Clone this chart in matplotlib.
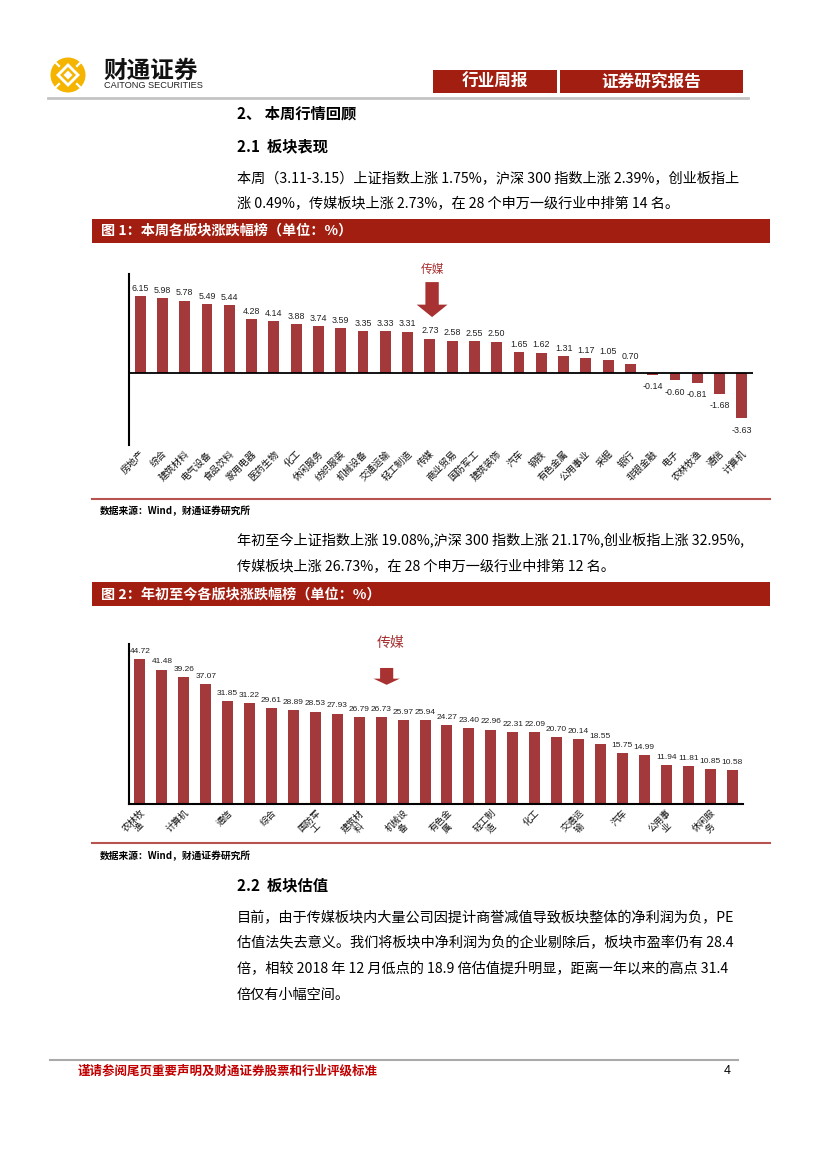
import matplotlib
matplotlib.use('Agg')
import matplotlib.pyplot as plt
from matplotlib.patches import Rectangle, Circle, Polygon, FancyArrow

plt.rcParams['font.family'] = ['Noto Sans CJK SC', 'DejaVu Sans']

# chart 1: this week's sector change (%)
sectors_week = ['房地产', '综合', '建筑材料', '电气设备', '食品饮料', '家用电器', '医药生物',
                '化工', '休闲服务', '纺织服装', '机械设备', '交通运输', '轻工制造', '传媒',
                '商业贸易', '国防军工', '建筑装饰', '汽车', '钢铁', '有色金属', '公用事业',
                '采掘', '银行', '非银金融', '电子', '农林牧渔', '通信', '计算机']
change_week = [6.15, 5.98, 5.78, 5.49, 5.44, 4.28, 4.14, 3.88, 3.74, 3.59, 3.35, 3.33, 3.31, 2.73,
               2.58, 2.55, 2.50, 1.65, 1.62, 1.31, 1.17, 1.05, 0.70, -0.14, -0.60, -0.81, -1.68, -3.63]

# chart 2: year-to-date sector change (%), only every other label is printed
sectors_ytd = ['农林牧渔', '非银金融', '计算机', '电子', '通信', '食品饮料', '综合', '家用电器',
               '国防军工', '医药生物', '建筑材料', '传媒', '机械设备', '电气设备', '有色金属',
               '房地产', '轻工制造', '纺织服装', '化工', '商业贸易', '交通运输', '钢铁', '汽车',
               '采掘', '公用事业', '建筑装饰', '休闲服务', '银行']
change_ytd = [44.72, 41.48, 39.26, 37.07, 31.85, 31.22, 29.61, 28.89, 28.53, 27.93, 26.79, 26.73,
              25.97, 25.94, 24.27, 23.40, 22.96, 22.31, 22.09, 20.70, 20.14, 18.55, 15.75, 14.99,
              11.94, 11.81, 10.85, 10.58]

highlight = '传媒'

W, H = 827, 1170
RED = '#A21E10'
BAR = '#A3393A'
CJK = ['Noto Sans CJK SC', 'DejaVu Sans']
NUM = ['Liberation Sans', 'DejaVu Sans']

fig = plt.figure(figsize=(W / 100, H / 100), dpi=100)

# page layer in pixel coordinates
pg = fig.add_axes([0, 0, 1, 1])
pg.set_xlim(0, W)
pg.set_ylim(H, 0)
pg.axis('off')


def px_axes(x0, y0, x1, y1):
    return fig.add_axes([x0 / W, 1 - y1 / H, (x1 - x0) / W, (y1 - y0) / H], facecolor='none')


def diamond(cx, cy, r, color):
    return Polygon([(cx, cy - r), (cx + r, cy), (cx, cy + r), (cx - r, cy)], closed=True,
                   color=color, lw=0)


# logo
gold = '#F4B400'
pg.add_patch(Circle((68, 75), 17.5, color=gold, lw=0))
pg.add_patch(diamond(68, 75, 12, 'white'))
pg.add_patch(diamond(68, 75, 8, gold))
pg.add_patch(diamond(68, 75, 4.5, 'white'))
for dx, dy in [(-1, -1), (1, -1), (1, 1), (-1, 1)]:
    pg.plot([68 + dx * 9, 68 + dx * 14], [75 + dy * 9, 75 + dy * 14], color='white', lw=1.6)
pg.text(103, 71, '财通证券', fontsize=17, fontweight='bold', color='#111111', va='center',
        family=CJK)
pg.text(104, 86, 'CAITONG SECURITIES', fontsize=6.6, color='#222222', va='center', family=NUM)

# header boxes
pg.add_patch(Rectangle((433, 70), 124, 23, color=RED, lw=0))
pg.add_patch(Rectangle((560, 70), 183, 23, color=RED, lw=0))
pg.text(495, 81.5, '行业周报', fontsize=12, fontweight='bold', color='white', ha='center',
        va='center', family=CJK)
pg.text(651, 81.5, '证券研究报告', fontsize=12, fontweight='bold', color='white', ha='center',
        va='center', family=CJK)
pg.plot([48, 748], [98, 98], color='#C4C4C4', lw=2)

# section text
pg.text(237, 113, '2、 本周行情回顾', fontsize=11, fontweight='bold', va='center', family=CJK)
pg.text(237, 146, '2.1  板块表现', fontsize=11, fontweight='bold', va='center', family=CJK)
pg.text(237, 179, '本周（3.11-3.15）上证指数上涨 1.75%，沪深 300 指数上涨 2.39%，创业板指上',
        fontsize=10.2, va='center', family=CJK)
pg.text(237, 204, '涨 0.49%，传媒板块上涨 2.73%，在 28 个申万一级行业中排第 14 名。',
        fontsize=10.2, va='center', family=CJK)

pg.add_patch(Rectangle((92, 219), 678, 24, color=RED, lw=0))
pg.text(101, 231, '图 1：本周各版块涨跌幅榜（单位：%）', fontsize=10.2, fontweight='bold',
        color='white', va='center', family=CJK)

# chart 1
ax1 = px_axes(129, 274, 753, 445)
x1 = list(range(len(change_week)))
ax1.bar(x1, change_week, width=0.49, color=BAR, zorder=2)
ax1.axhline(0, color='black', lw=1.3, zorder=3)
ax1.set_xlim(-0.5, len(change_week) - 0.5)
ax1.set_ylim(-5.8, 7.93)
for s in ['top', 'right', 'bottom']:
    ax1.spines[s].set_visible(False)
ax1.spines['left'].set_linewidth(1.5)
ax1.set_yticks([])
ax1.set_xticks(x1)
ax1.set_xticklabels(sectors_week, rotation=45, ha='right', rotation_mode='anchor',
                    fontsize=6.8, family=CJK, color='#111111')
ax1.tick_params(axis='x', length=0, pad=3)
for xi, v in zip(x1, change_week):
    if v >= 0:
        ax1.annotate(f'{v:.2f}', (xi, v), xytext=(0, 2.5), textcoords='offset points',
                     ha='center', va='bottom', fontsize=6.4, family=NUM, color='#222222')
    else:
        ax1.annotate(f'{v:.2f}', (xi, v), xytext=(0, -5.5), textcoords='offset points',
                     ha='center', va='top', fontsize=6.4, family=NUM, color='#222222')

h1 = sectors_week.index(highlight)
ax1.add_patch(FancyArrow(h1 + 0.1, 7.28, 0, -2.81, width=0.6, head_width=1.38,
                         head_length=1.0, length_includes_head=True, color='#A83232',
                         lw=0, clip_on=False, zorder=4))
ax1.text(h1 + 0.1, 8.33, highlight, fontsize=8.5, color='#A83232', ha='center', va='center',
         family=CJK, clip_on=False)

pg.plot([92, 770], [499, 499], color='#B85450', lw=1.5)
pg.text(100, 511, '数据来源：Wind，财通证券研究所', fontsize=7, fontweight='bold', va='center',
        family=CJK)

pg.text(237, 540, '年初至今上证指数上涨 19.08%,沪深 300 指数上涨 21.17%,创业板指上涨 32.95%,',
        fontsize=10.2, va='center', family=CJK)
pg.text(237, 567, '传媒板块上涨 26.73%，在 28 个申万一级行业中排第 12 名。',
        fontsize=10.2, va='center', family=CJK)

pg.add_patch(Rectangle((92, 582), 678, 24, color=RED, lw=0))
pg.text(101, 594, '图 2：年初至今各版块涨跌幅榜（单位：%）', fontsize=10.2, fontweight='bold',
        color='white', va='center', family=CJK)

# chart 2
ax2 = px_axes(129, 644, 743, 804)
x2 = list(range(len(change_ytd)))
ax2.bar(x2, change_ytd, width=0.5, color=BAR, zorder=2)
ax2.set_xlim(-0.5, len(change_ytd) - 0.5)
ax2.set_ylim(0, 49.4)
for s in ['top', 'right']:
    ax2.spines[s].set_visible(False)
ax2.spines['left'].set_linewidth(1.5)
ax2.spines['bottom'].set_linewidth(1.5)
ax2.set_yticks([])
ytd_labels = []
for i, name in enumerate(sectors_ytd):
    if i % 2:
        ytd_labels.append('')
    elif len(name) > 3:
        ytd_labels.append(name[:3] + '\n' + name[3:])
    else:
        ytd_labels.append(name)
ax2.set_xticks(x2)
ax2.set_xticklabels(ytd_labels, rotation=45, ha='right', rotation_mode='anchor',
                    multialignment='center', fontsize=6.6, family=CJK, linespacing=1.1,
                    color='#111111')
ax2.tick_params(axis='x', length=0, pad=3)
for xi, v in zip(x2, change_ytd):
    ax2.annotate(f'{v:.2f}', (xi, v), xytext=(0, 3), textcoords='offset points',
                 ha='center', va='bottom', fontsize=6.0, family=NUM, color='#222222')

h2 = sectors_ytd.index(highlight)
ax2.add_patch(FancyArrow(h2 + 0.25, 42.0, 0, -5.2, width=0.6, head_width=1.2,
                         head_length=1.9, length_includes_head=True, color='#A83232',
                         lw=0, clip_on=False, zorder=4))
ax2.text(h2 + 0.42, 49.7, highlight, fontsize=10, color='#A83232', ha='center', va='center',
         family=CJK, clip_on=False)

pg.plot([92, 770], [843, 843], color='#B85450', lw=1.5)
pg.text(100, 856, '数据来源：Wind，财通证券研究所', fontsize=7, fontweight='bold', va='center',
        family=CJK)

pg.text(237, 885, '2.2  板块估值', fontsize=11, fontweight='bold', va='center', family=CJK)
para = ['目前，由于传媒板块内大量公司因提计商誉减值导致板块整体的净利润为负，PE',
        '估值法失去意义。我们将板块中净利润为负的企业剔除后，板块市盈率仍有 28.4',
        '倍，相较 2018 年 12 月低点的 18.9 倍估值提升明显，距离一年以来的高点 31.4',
        '倍仅有小幅空间。']
for k, line in enumerate(para):
    pg.text(237, 918 + k * 25.5, line, fontsize=10.2, va='center', family=CJK)

# footer
pg.plot([50, 738], [1060, 1060], color='#AAAAAA', lw=1.5)
pg.text(78, 1071, '谨请参阅尾页重要声明及财通证券股票和行业评级标准', fontsize=9,
        fontweight='bold', color='#C00000', va='center', family=CJK)
pg.text(724, 1071, '4', fontsize=9, va='center', family=NUM)

fig.savefig('out.png', dpi=100)
